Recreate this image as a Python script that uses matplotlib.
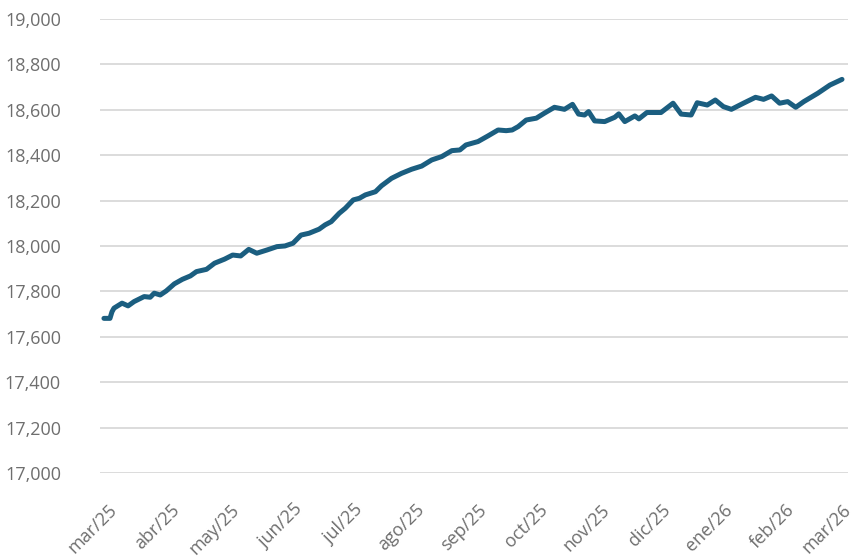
import matplotlib
matplotlib.use("Agg")
import matplotlib.pyplot as plt
import pandas as pd

dates = [
    "2025-02-27", "2025-03-02", "2025-03-03", "2025-03-04", "2025-03-08", "2025-03-11",
    "2025-03-14", "2025-03-19", "2025-03-22", "2025-03-24", "2025-03-27", "2025-03-30",
    "2025-04-03", "2025-04-07", "2025-04-11", "2025-04-14", "2025-04-19", "2025-04-23",
    "2025-04-28", "2025-05-02", "2025-05-06", "2025-05-10", "2025-05-14", "2025-05-19",
    "2025-05-24", "2025-05-28", "2025-06-01", "2025-06-05", "2025-06-09", "2025-06-14",
    "2025-06-17", "2025-06-20", "2025-06-24", "2025-06-27", "2025-07-01", "2025-07-04",
    "2025-07-07", "2025-07-12", "2025-07-15", "2025-07-20", "2025-07-25", "2025-07-30",
    "2025-08-04", "2025-08-09", "2025-08-14", "2025-08-19", "2025-08-23", "2025-08-26",
    "2025-09-01", "2025-09-06", "2025-09-11", "2025-09-15", "2025-09-18", "2025-09-21",
    "2025-09-25", "2025-09-30", "2025-10-04", "2025-10-09", "2025-10-14", "2025-10-18",
    "2025-10-21", "2025-10-24", "2025-10-26", "2025-10-29", "2025-11-03", "2025-11-08",
    "2025-11-10", "2025-11-13", "2025-11-18", "2025-11-20", "2025-11-24", "2025-12-01",
    "2025-12-07", "2025-12-11", "2025-12-16", "2025-12-19", "2025-12-24", "2025-12-28",
    "2026-01-01", "2026-01-05", "2026-01-11", "2026-01-17", "2026-01-21", "2026-01-25",
    "2026-01-29", "2026-02-02", "2026-02-06", "2026-02-10", "2026-02-17", "2026-02-23",
    "2026-03-01",
]
values = [
    17681, 17681, 17710, 17726, 17748, 17736,
    17755, 17777, 17774, 17792, 17784, 17802,
    17833, 17853, 17868, 17887, 17897, 17924,
    17942, 17960, 17956, 17985, 17968, 17982,
    17997, 18000, 18012, 18048, 18056, 18074,
    18093, 18107, 18144, 18166, 18203, 18210,
    18225, 18239, 18265, 18298, 18320, 18338,
    18352, 18379, 18394, 18420, 18423, 18445,
    18460, 18485, 18511, 18508, 18511, 18526,
    18555, 18563, 18585, 18611, 18602, 18624,
    18581, 18577, 18592, 18551, 18548, 18567,
    18582, 18548, 18573, 18560, 18588, 18588,
    18629, 18581, 18577, 18631, 18621, 18643,
    18614, 18602, 18629, 18655, 18646, 18661,
    18629, 18636, 18611, 18636, 18673, 18709,
    18734,
]
tick_dates = [
    "2025-03-01", "2025-04-01", "2025-05-01", "2025-06-01", "2025-07-01", "2025-08-01",
    "2025-09-01", "2025-10-01", "2025-11-01", "2025-12-01", "2026-01-01", "2026-02-01",
    "2026-03-01",
]
tick_labels = [
    "mar/25", "abr/25", "may/25", "jun/25", "jul/25", "ago/25", "sep/25",
    "oct/25", "nov/25", "dic/25", "ene/26", "feb/26", "mar/26",
]
y_ticks = [17000, 17200, 17400, 17600, 17800, 18000, 18200, 18400, 18600, 18800, 19000]

plt.rcParams["font.family"] = ["Open Sans", "DejaVu Sans"]

fig = plt.figure(figsize=(8.54, 5.59), dpi=100)
ax = fig.add_axes([0.117, 0.154, 0.876, 0.812])

x = pd.to_datetime(dates)
ax.plot(x, values, color="#1b5e80", linewidth=3.6, solid_joinstyle="round",
        solid_capstyle="round", zorder=3)

ax.set_ylim(17000, 19000)
ax.set_yticks(y_ticks)
ax.set_yticklabels([f"{v:,}" for v in y_ticks])
ax.set_xlim(pd.Timestamp("2025-02-25"), pd.Timestamp("2026-03-04"))
ax.set_xticks(pd.to_datetime(tick_dates))
ax.set_xticklabels(tick_labels, rotation=45, ha="right", rotation_mode="anchor")

ax.grid(axis="y", color="#d9d9d9", linewidth=1.3, zorder=0)
ax.grid(axis="x", visible=False)
for s in ax.spines.values():
    s.set_visible(False)
ax.tick_params(axis="both", length=0, labelsize=13, labelcolor="#6e6e6e")
ax.tick_params(axis="y", pad=28)
ax.tick_params(axis="x", pad=20)

fig.savefig("out.png", dpi=100)
